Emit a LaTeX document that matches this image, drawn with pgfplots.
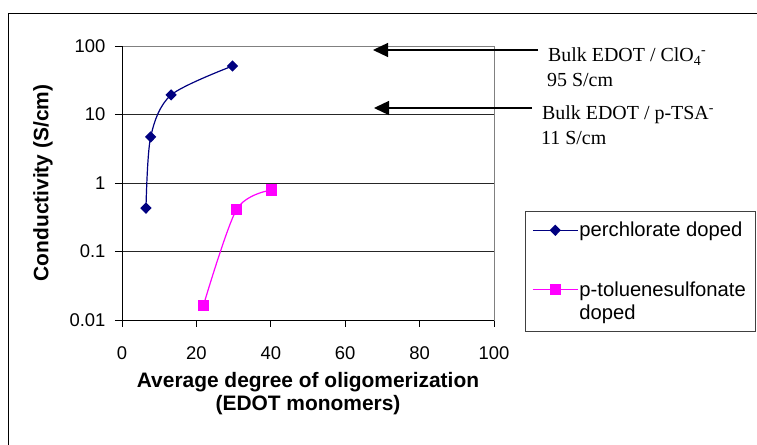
\documentclass[border=0pt]{standalone}
\usepackage{fontspec}
\setmainfont{Liberation Sans}
\newfontfamily\seriffont{Liberation Serif}
\usepackage{pgfplots}
\pgfplotsset{compat=1.18}
\usetikzlibrary{arrows.meta}
\definecolor{navy}{RGB}{0,0,128}
\definecolor{mymagenta}{RGB}{255,0,255}
\begin{document}
\begin{tikzpicture}
\begin{axis}[
  at={(0,0)}, anchor=south west,
  scale only axis, width=372bp, height=274bp,
  xmin=0, xmax=100,
  ymode=log, log basis y=10, ymin=0.01, ymax=100,
  xtick={0,20,40,60,80,100},
  ytick={0.01,0.1,1,10,100},
  yticklabels={0.01,0.1,1,10,100},
  yminorticks=false,
  ymajorgrids,
  grid style={black!85, line width=0.8bp},
  tick align=outside,
  xtick pos=left, ytick pos=left,
  major tick length=7bp,
  tick style={black, line width=0.8bp},
  axis line style={gray, line width=0.8bp},
  /pgf/number format/assume math mode=true,
  tick label style={font=\fontsize{18.5}{21}\selectfont},
  xticklabel style={yshift=-16bp},
  yticklabel style={xshift=-6bp},
  xlabel={Average degree of oligomerization\\(EDOT monomers)},
  xlabel style={at={(axis description cs:0.5,-0.1766)}, anchor=north, align=center, font=\bfseries\fontsize{21}{24}\selectfont},
  ylabel={Conductivity (S/cm)},
  ylabel style={at={(axis description cs:-0.2124,0.5)}, anchor=center, font=\bfseries\fontsize{21}{24}\selectfont},
  legend style={draw=none, fill=none, at={(1.1022,0.3613)}, anchor=north west,
    font=\fontsize{20.3}{23}\selectfont, row sep=41bp, inner sep=0pt,
    nodes={inner sep=1bp}},
  legend cell align=left,
  legend image code/.code={\draw[mark repeat=2,mark phase=2,#1] plot coordinates {(0bp,0bp) (22.5bp,0bp) (45bp,0bp)};},
  after end axis/.code={\draw[black, line width=0.8bp] (rel axis cs:0,1) -- (rel axis cs:0,0) -- (rel axis cs:1,0);},
]
\addplot[navy, line width=1.2bp, smooth, mark=diamond*, mark size=4.8bp, mark options={solid, xscale=1.33}]
  coordinates {(6.45,0.43) (7.7,4.7) (13.2,19.3) (29.7,51)};
\addlegendentry{perchlorate doped}
\addplot[mymagenta, line width=1.2bp, smooth, mark=square*, mark size=5bp, mark options={solid}]
  coordinates {(21.9,0.0164) (30.8,0.41) (40.2,0.79)};
\addlegendentry{\makebox[0pt][l]{\raisebox{-23bp}[0pt][0pt]{doped}}p-toluenesulfonate}
\end{axis}
\draw[black!75, line width=0.8bp] (403bp,109bp) rectangle (633bp,-11bp);
\draw[line width=1.3bp, -{Triangle[length=15bp,width=14bp]}] (416bp,270bp) -- (251bp,270bp);
\draw[line width=1.3bp, -{Triangle[length=15bp,width=14bp]}] (410bp,212bp) -- (252bp,212bp);
\node[anchor=base west, inner sep=0pt, font=\seriffont\fontsize{20}{24}\selectfont] at (426bp,258bp) {Bulk EDOT / ClO\textsubscript{4}\textsuperscript{-}};
\node[anchor=base west, inner sep=0pt, font=\seriffont\fontsize{20}{24}\selectfont] at (425bp,233bp) {95 S/cm};
\node[anchor=base west, inner sep=0pt, font=\seriffont\fontsize{20}{24}\selectfont] at (420bp,200bp) {Bulk EDOT / p-TSA\textsuperscript{-}};
\node[anchor=base west, inner sep=0pt, font=\seriffont\fontsize{20}{24}\selectfont] at (419bp,175bp) {11 S/cm};
\draw[line width=0.8bp] (-114bp,-200bp) rectangle (700bp,307bp);
\pgfresetboundingbox
\useasboundingbox (-122bp,-125bp) rectangle (635bp,320bp);
\end{tikzpicture}
\end{document}
